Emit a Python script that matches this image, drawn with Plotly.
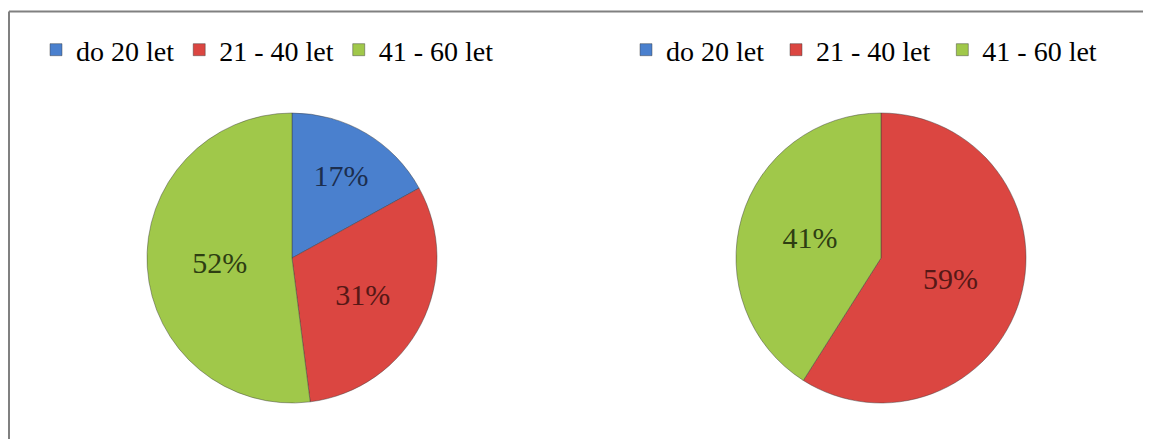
import plotly.graph_objects as go

categories = ["do 20 let", "21 - 40 let", "41 - 60 let"]
values_left = [17, 31, 52]
values_right = [0, 59, 41]

colors = ["#4A80CE", "#DB4641", "#A0C84A"]
text_colors = ["#1C2E4E", "#561816", "#2E3E12"]

# page body has an 8px margin; size the figure to fill the rest of the window
OFF = 8
W, H = 1151 - OFF, 439 - OFF
FONT = "Liberation Serif, Times New Roman, serif"

def dom(cx, cy, r):
    cx, cy = cx - OFF, cy - OFF
    return dict(x=[(cx - r) / W, (cx + r) / W], y=[1 - (cy + r) / H, 1 - (cy - r) / H])

# second pie gets its own legend; its labels carry a trailing space so the
# entries are not merged with those of the first pie
labels_right = [c + " " for c in categories]

fig = go.Figure()
fig.add_trace(go.Pie(
    labels=categories, values=values_left, sort=False, direction="clockwise", rotation=0,
    marker=dict(colors=colors, line=dict(color="rgba(60,60,60,0.45)", width=1)),
    texttemplate="%{percent:.0%}", textposition="inside",
    insidetextorientation="horizontal",
    textfont=dict(family=FONT, size=30, color=text_colors),
    domain=dom(292, 258, 145), legend="legend", hoverinfo="label+percent",
))
fig.add_trace(go.Pie(
    labels=labels_right, values=values_right, sort=False, direction="clockwise", rotation=0,
    marker=dict(colors=colors, line=dict(color="rgba(60,60,60,0.45)", width=1)),
    texttemplate="%{percent:.0%}", textposition="inside",
    insidetextorientation="horizontal",
    textfont=dict(family=FONT, size=30, color=text_colors),
    domain=dom(881, 258, 145), legend="legend2", hoverinfo="label+percent",
))

legend_common = dict(orientation="h", font=dict(family=FONT, size=28, color="#000000"),
                     bgcolor="rgba(0,0,0,0)", yanchor="middle", xanchor="left",
                     itemwidth=30, traceorder="normal")
fig.update_layout(
    width=W, height=H,
    margin=dict(l=0, r=0, t=0, b=0),
    paper_bgcolor="white", plot_bgcolor="white",
    font=dict(family=FONT),
    showlegend=True,
    legend=dict(x=(36 - OFF) / W, y=1 - (50 - OFF) / H, **legend_common),
    legend2=dict(x=(626 - OFF) / W, y=1 - (50 - OFF) / H, **legend_common),
    shapes=[
        dict(type="line", xref="paper", yref="paper", x0=1 / W, x1=1, y0=1 - 3.5 / H, y1=1 - 3.5 / H,
             line=dict(color="#808080", width=2)),
        dict(type="line", xref="paper", yref="paper", x0=1 / W, x1=1 / W, y0=0, y1=1 - 3.5 / H,
             line=dict(color="#808080", width=2)),
    ],
)

fig.write_html("out.html")
